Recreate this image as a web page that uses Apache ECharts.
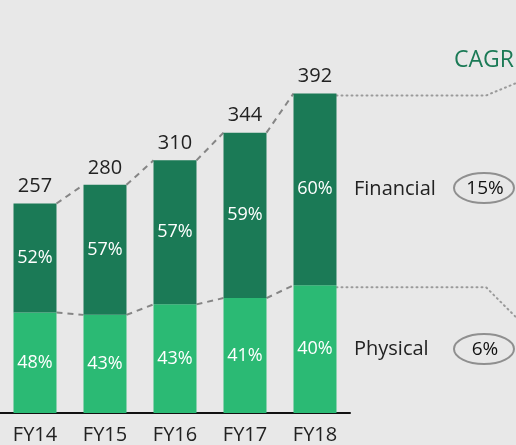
<!DOCTYPE html>
<html>
<head>
  <meta charset="utf-8">
  <script src="https://cdn.jsdelivr.net/npm/echarts@6/dist/echarts.min.js"></script>
</head>
<body style="margin:0;background:#e8e8e8">
  <div id="container" style="width:516px;height:445px"></div>
  <script>
    var years = ['FY14', 'FY15', 'FY16', 'FY17', 'FY18'];
    var totals = [257, 280, 310, 344, 392];
    var physicalPct = [48, 43, 43, 41, 40];
    var financialPct = [52, 57, 57, 59, 60];
    var cagrFinancial = '15%';
    var cagrPhysical = '6%';

    // segment values (from total * share)
    var physical = totals.map(function (t, i) { return t * physicalPct[i] / 100; });
    var financial = totals.map(function (t, i) { return t - physical[i]; });

    var dark = '#1b7a56';
    var light = '#2bba74';
    var font = 'Open Sans';
    var BAR = 0.614;

    var chart = echarts.init(document.getElementById('container'));

    // dashed connectors between neighbouring bars
    function connector(values) {
      return function (params, api) {
        var i = params.dataIndex;
        var half = api.size([1, 0])[0] * BAR / 2;
        var a = api.coord([i, values[i]]);
        var b = api.coord([i + 1, values[i + 1]]);
        return {
          type: 'line',
          shape: { x1: a[0] + half, y1: a[1], x2: b[0] - half, y2: b[1] },
          style: { stroke: '#858585', lineWidth: 2, lineDash: [6, 5] }
        };
      };
    }

    // dotted leader from last bar to the CAGR column
    function leader(values, dy) {
      return function (params, api) {
        var n = values.length - 1;
        var half = api.size([1, 0])[0] * BAR / 2;
        var a = api.coord([n, values[n]]);
        return {
          type: 'polyline',
          shape: { points: [[a[0] + half, a[1] + 2], [486, a[1] + 2], [520, a[1] + 2 + dy]] },
          style: { stroke: '#9a9a9a', fill: null, lineWidth: 2, lineDash: [1, 4], lineCap: 'round' }
        };
      };
    }

    function txt(s, x, y, size, color, align) {
      return {
        type: 'text', x: x, y: y,
        style: { text: s, fill: color, fontSize: size, fontFamily: font, align: align || 'left', verticalAlign: 'middle' }
      };
    }

    var option = {
      backgroundColor: '#e8e8e8',
      animation: false,
      grid: { left: 0, top: 87, width: 350, bottom: 32 },
      xAxis: {
        type: 'category',
        data: years,
        axisLine: { lineStyle: { color: '#111', width: 2 } },
        axisTick: { show: false },
        axisLabel: { color: '#222', fontSize: 20, fontFamily: font, margin: 12 }
      },
      yAxis: { type: 'value', min: 0, max: 400, show: false, splitLine: { show: false } },
      graphic: [
        txt('CAGR', 454, 60, 23, dark),
        txt('Financial', 354, 189, 20, '#222'),
        txt('Physical', 354, 349, 20, '#222'),
        { type: 'ellipse', shape: { cx: 484, cy: 188, rx: 30, ry: 15 }, style: { fill: null, stroke: '#8f8f8f', lineWidth: 2 } },
        { type: 'ellipse', shape: { cx: 484, cy: 349, rx: 30, ry: 15 }, style: { fill: null, stroke: '#8f8f8f', lineWidth: 2 } },
        txt(cagrFinancial, 485, 189, 19, '#111', 'center'),
        txt(cagrPhysical, 485, 350, 19, '#111', 'center')
      ],
      series: [
        {
          name: 'Physical', type: 'bar', stack: 'all', barWidth: (BAR * 100) + '%',
          data: physical,
          itemStyle: { color: light },
          label: {
            show: true, position: 'inside', color: '#fff', fontSize: 18, fontFamily: font,
            formatter: function (p) { return physicalPct[p.dataIndex] + '%'; }
          }
        },
        {
          name: 'Financial', type: 'bar', stack: 'all',
          data: financial,
          itemStyle: { color: dark },
          label: {
            show: true, position: 'inside', color: '#fff', fontSize: 18, fontFamily: font,
            formatter: function (p) { return financialPct[p.dataIndex] + '%'; }
          }
        },
        {
          name: 'Total', type: 'bar', stack: 'all',
          data: totals.map(function () { return 0; }),
          itemStyle: { color: 'transparent' },
          label: {
            show: true, position: 'top', distance: 7, color: '#222', fontSize: 20, fontFamily: font,
            formatter: function (p) { return totals[p.dataIndex]; }
          }
        },
        {
          type: 'custom', renderItem: connector(totals), clip: false, silent: true,
          data: [0, 1, 2, 3]
        },
        {
          type: 'custom', renderItem: connector(physical), clip: false, silent: true,
          data: [0, 1, 2, 3]
        },
        {
          type: 'custom', renderItem: leader(totals, -14), clip: false, silent: true,
          data: [0]
        },
        {
          type: 'custom', renderItem: leader(physical, 34), clip: false, silent: true,
          data: [0]
        }
      ]
    };

    chart.setOption(option);
  </script>
</body>
</html>
